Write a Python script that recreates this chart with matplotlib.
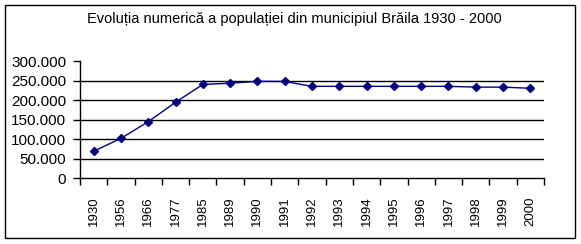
import matplotlib
matplotlib.use("Agg")
import matplotlib.pyplot as plt
from matplotlib.ticker import FuncFormatter
from matplotlib.patches import Rectangle

# date
ani = ['1930', '1956', '1966', '1977', '1985', '1989', '1990', '1991', '1992',
       '1993', '1994', '1995', '1996', '1997', '1998', '1999', '2000']
populatie = [69000, 102000, 145000, 195000, 241000, 244000, 249000, 248500, 236000,
             236000, 236000, 236000, 236000, 236000, 234000, 234000, 231000]

plt.rcParams['font.family'] = ['Liberation Sans', 'DejaVu Sans']

fig = plt.figure(figsize=(5.81, 2.44), dpi=100)
W, H = 581, 244

# chenarul exterior
fig.patches.append(Rectangle((5 / W, 1 - 238 / H), 570 / W, 233 / H,
                             transform=fig.transFigure, fill=False,
                             edgecolor='black', linewidth=1))

ax = fig.add_axes([80 / W, 1 - 178 / H, 464 / W, 116.5 / H])

x = range(len(ani))
ax.plot(x, populatie, color='#000080', linewidth=1, marker='D', markersize=4,
        markerfacecolor='#000080', markeredgecolor='#000080', zorder=3)

ax.set_xlim(-0.5, len(ani) - 0.5)
ax.set_ylim(0, 300000)
ax.set_yticks(range(0, 300001, 50000))
ax.yaxis.set_major_formatter(FuncFormatter(lambda v, p: f"{int(v):,}".replace(',', '.')))
for v in range(50000, 250001, 50000):
    ax.axhline(v, color='black', linewidth=1, zorder=1)

ax.set_xticks([i - 0.5 for i in range(len(ani) + 1)])
ax.set_xticklabels([])
ax.set_xticks(list(x), minor=True)
ax.set_xticklabels(ani, minor=True, rotation=90, fontsize=9.5)
ax.tick_params(axis='x', which='minor', length=0, pad=13)
ax.tick_params(axis='x', which='major', length=5, width=1, direction='out')
ax.tick_params(axis='y', length=5, width=1, direction='out', labelsize=11, pad=5)

for s in ['top', 'right']:
    ax.spines[s].set_visible(False)
for s in ['left', 'bottom']:
    ax.spines[s].set_linewidth(1)

fig.text(294 / W, 1 - 19 / H, 'Evoluția numerică a populației din municipiul Brăila 1930 - 2000',
         ha='center', va='center', fontsize=10.5)

fig.savefig('out.png', dpi=100)
